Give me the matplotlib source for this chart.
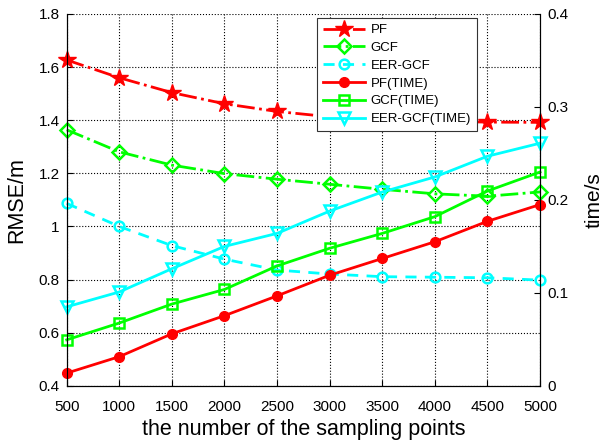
import matplotlib
matplotlib.use("Agg")
import matplotlib.pyplot as plt

plt.rcParams['font.family'] = ['Liberation Sans', 'DejaVu Sans']

x = [500, 1000, 1500, 2000, 2500, 3000, 3500, 4000, 4500, 5000]
pf = [1.627, 1.56, 1.504, 1.462, 1.433, 1.413, 1.402, 1.396, 1.393, 1.392]
gcf = [1.364, 1.281, 1.231, 1.199, 1.178, 1.159, 1.140, 1.123, 1.114, 1.130]
eer = [1.087, 1.000, 0.928, 0.877, 0.836, 0.821, 0.811, 0.809, 0.807, 0.798]
pf_t = [0.0137, 0.0314, 0.056, 0.0755, 0.0968, 0.119, 0.137, 0.155, 0.177, 0.195]
gcf_t = [0.0495, 0.0676, 0.088, 0.1037, 0.129, 0.148, 0.164, 0.182, 0.2096, 0.230]
eer_t = [0.085, 0.101, 0.126, 0.150, 0.164, 0.188, 0.2085, 0.2247, 0.247, 0.261]

labels = ['PF', 'GCF', 'EER-GCF', 'PF(TIME)', 'GCF(TIME)', 'EER-GCF(TIME)']
xticks = [500, 1000, 1500, 2000, 2500, 3000, 3500, 4000, 4500, 5000]
yticks_l = [0.4, 0.6, 0.8, 1.0, 1.2, 1.4, 1.6, 1.8]
yticklabels_l = ['0.4', '0.6', '0.8', '1', '1.2', '1.4', '1.6', '1.8']
yticks_r = [0, 0.1, 0.2, 0.3, 0.4]
yticklabels_r = ['0', '0.1', '0.2', '0.3', '0.4']

fig = plt.figure(figsize=(6.08, 4.43), dpi=100)
ax = fig.add_axes([0.1097, 0.129, 0.7785, 0.8394])
ax2 = ax.twinx()

red, green, cyan = '#ff0000', '#00ff00', '#00ffff'
lw = 2.0
l1, = ax.plot(x, pf, color=red, ls='-.', lw=lw, marker='*', ms=13, mfc=red, mec=red, clip_on=False, zorder=3)
l2, = ax.plot(x, gcf, color=green, ls='-.', lw=lw, marker='D', ms=7, mfc='none', mec=green, mew=1.8, clip_on=False, zorder=3)
l3, = ax.plot(x, eer, color=cyan, ls=(0, (4, 3)), lw=lw, marker='o', ms=7, mfc='none', mec=cyan, mew=1.8, clip_on=False, zorder=3)
l4, = ax2.plot(x, pf_t, color=red, ls='-', lw=lw, marker='o', ms=7, mfc=red, mec=red, clip_on=False)
l5, = ax2.plot(x, gcf_t, color=green, ls='-', lw=lw, marker='s', ms=7, mfc='none', mec=green, mew=1.8, clip_on=False)
l6, = ax2.plot(x, eer_t, color=cyan, ls='-', lw=lw, marker='v', ms=9, mfc='none', mec=cyan, mew=1.8, clip_on=False)

ax.set_xlim(500, 5000)
ax.set_ylim(0.4, 1.8)
ax2.set_ylim(0, 0.4)
ax.set_xticks(xticks)
ax.set_xticklabels([str(v) for v in xticks], fontsize=11)
ax.set_yticks(yticks_l)
ax.set_yticklabels(yticklabels_l, fontsize=11)
ax2.set_yticks(yticks_r)
ax2.set_yticklabels(yticklabels_r, fontsize=11)

for a in (ax, ax2):
    a.tick_params(direction='in', length=4, width=0.8, colors='black', pad=5)
    a.spines['top'].set_visible(False)
ax.tick_params(axis='x', pad=10)
ax.tick_params(top=False)
ax.grid(True, ls=':', color='black', lw=0.8)
ax.set_axisbelow(True)

ax.set_xlabel('the number of the sampling points', fontsize=15.5, labelpad=4)
ax.set_ylabel('RMSE/m', fontsize=15.5, labelpad=8)
ax2.set_ylabel('time/s', fontsize=15, labelpad=12)

leg = ax2.legend([l1, l2, l3, l4, l5, l6], labels, loc='upper left',
                 bbox_to_anchor=(0.529, 0.989), fontsize=9.5, frameon=True,
                 fancybox=False, edgecolor='#333333', framealpha=1.0,
                 borderpad=0.45, labelspacing=0.42, handlelength=3.2,
                 handletextpad=0.4, borderaxespad=0)
leg.get_frame().set_linewidth(0.8)
leg.set_zorder(10)

fig.savefig('out.png', dpi=100)
